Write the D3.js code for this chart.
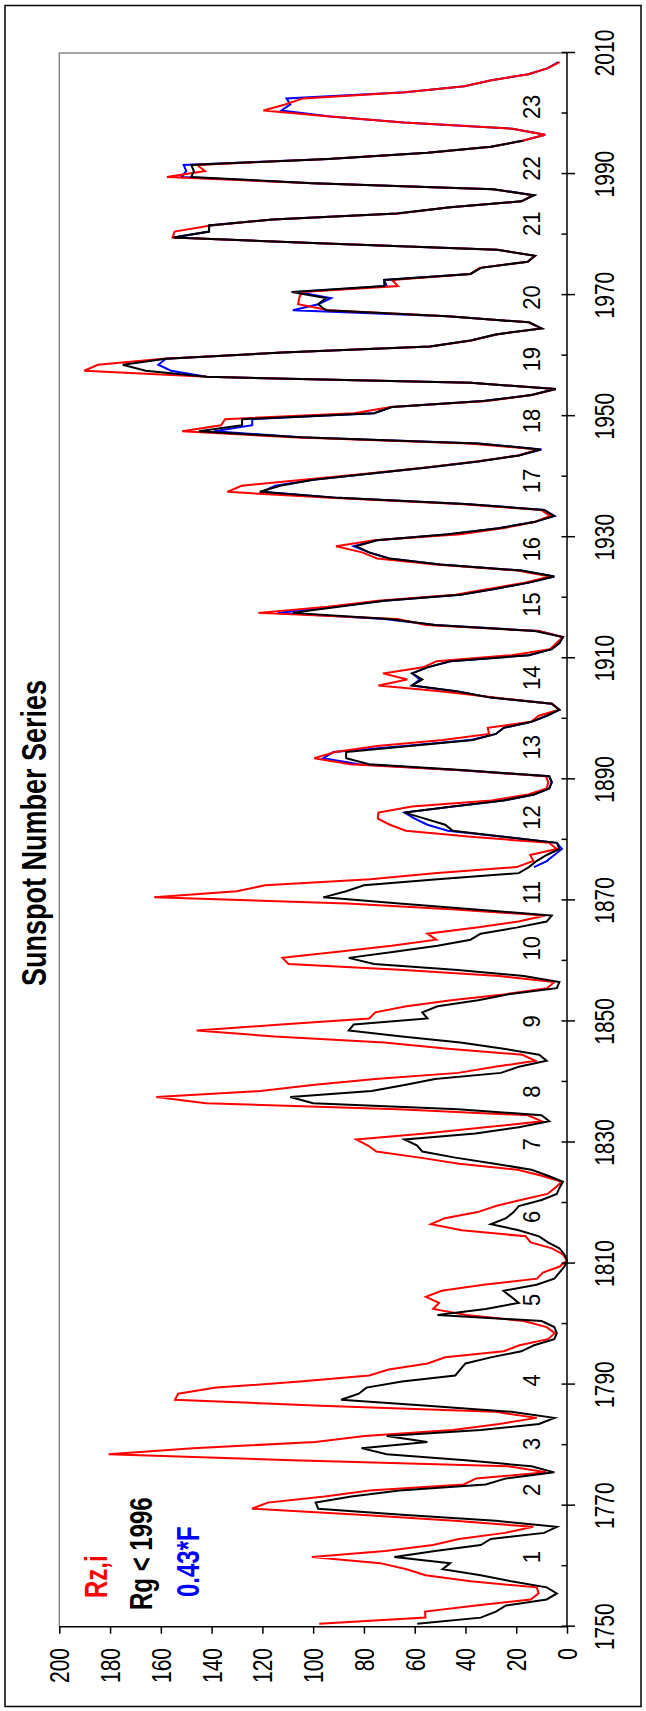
<!DOCTYPE html>
<html><head><meta charset="utf-8">
<script src="https://cdn.jsdelivr.net/npm/d3@7"></script>
<style>
html,body{margin:0;padding:0;background:#fff;}
svg{display:block;}
text{font-family:"Liberation Sans",Arial,Helvetica,sans-serif;}
</style></head>
<body>
<script>
// ---------------- data ----------------
const title = "Sunspot Number Series";
const rzStart = 1750;   // Rz,i yearly values 1750..2008
const rz = [97.6,55.8,55.9,35.9,14.3,11.2,11.9,37.9,55.7,63.2,
73.6,100.5,71.6,52.8,42.6,24.5,13.3,44.2,81.7,124.1,
117.9,95.5,77.8,40.7,35.8,8.2,23.2,108.2,180.6,147.3,
99.2,79.7,45.0,26.7,11.9,28.2,97.0,154.4,153.2,138.2,
105.2,77.9,70.2,54.9,48.0,24.9,18.7,7.5,4.8,8.0,
17.0,39.8,52.7,50.4,55.6,49.4,32.9,11.8,9.5,2.9,
0.0,1.6,5.9,14.3,16.3,41.4,53.6,48.1,35.2,28.0,
18.3,7.7,4.7,2.1,9.9,19.4,42.5,58.0,75.1,78.4,
83.0,55.9,32.2,9.9,15.4,66.6,142.2,161.8,120.7,100.3,
75.6,42.9,28.3,12.5,17.6,46.9,72.0,115.2,145.9,112.7,
77.9,75.5,63.3,45.6,24.1,7.8,5.0,26.6,64.1,109.7,
112.1,90.3,69.1,51.5,55.0,35.7,19.1,8.5,44.0,86.6,
162.6,130.1,118.9,77.5,52.3,19.9,13.2,14.5,4.0,7.0,
37.8,63.5,69.8,74.5,74.3,61.1,29.7,15.3,8.0,7.4,
8.3,41.7,85.4,99.6,91.3,74.9,48.9,30.7,31.2,14.2,
11.1,3.2,5.9,28.5,49.1,74.3,62.9,72.5,56.7,51.4,
21.8,6.7,4.2,1.6,11.2,55.5,66.8,121.6,94.3,74.4,
44.0,30.5,16.6,6.8,19.5,51.8,74.8,80.7,91.0,75.9,
41.8,24.8,13.0,6.7,10.2,42.2,93.2,133.8,128.2,103.9,
79.3,55.6,35.8,19.1,11.2,38.8,108.3,151.6,136.3,134.7,
83.9,69.4,31.5,13.9,4.4,38.0,141.7,190.2,184.8,159.0,
112.3,53.9,37.6,27.9,10.2,15.1,47.0,93.8,105.9,105.5,
104.5,66.6,68.9,38.0,34.5,15.5,12.6,27.5,92.5,155.4,
154.6,140.4,115.9,66.6,45.9,17.9,13.4,29.4,100.2,157.6,
142.6,145.7,94.3,54.6,29.9,17.5,8.6,21.5,64.3,93.3,
119.6,111.0,104.0,63.7,40.4,29.8,15.2,7.5,2.9];

const rgStart = 1750;   // Rg yearly values 1750..1995
const rg = [59,34,28,24,8,4,8,22,34,49,
46,68,52,34,30,9,4,28,65,98,
99,85,66,32,24,5,14,40,71,81,
55,71,34,11,5,22,55,89,82,79,
65,44,42,40,30,18,13,5,4,5,
10,51,32,19,22,25,12,5,3,1,
0,1,3,7.5,11,19,30,24,21,19,
10,4,3,1.6,7.5,14,28.5,44,57,59,
64,36,19,7,10,43,100,109,77,64,
52,26,19,8,11,25,42,65,86,84,
55,57,51,35,23,4,3,17,43,76,
86,68,51,38,34,20,8,6,36,66,
96,87,80,51,19,15,12,8,3,4,
25,45,48,56,64,45,25,13,7,6,
7,40,78,87,87,62,37,28,25,14,
8,3,6,30,43,61,57,61,55,46,
15,6,3,1.6,12.7,52,70,108,90,72,
42,28,15,5,18,50,70,78,83,75,
47,27,13,5,9,40,90,121,113,100,
78,55,35,19,10.5,35,105,145,128,128,
76,69,33,14,4.4,38,142,166,175,158,
112,54,38,28,10,15,47,95,98,95,
108.5,72,72,38,34,15.5,12.6,27.5,92.5,155,
141,141,116,67,46,18,13,29,100,148,
147,148,94,55,30,17.5];

const fStart = 1875;    // 0.43*F yearly values 1875..2008
const f43 = [13,8,5,2,4,
25,47,55,60,64,45,25,13,7,6,
7,42,82,96,92,64,38,28,25,14,
8,3,6,30,43,61,58,61,55,46,
15,6,3,1.6,11,52,72,114,92,72,
42,28,15,5,18,50,70,78,84,75,
46,27,13,5,9,40,90,120,115,100,
78,55,35,19,10,35,105,139,124,124,
76,69,33,14,4.4,38,142,156,161,158,
112,54,38,28,10,15,47,108,98,93,
106,71,72,38,34,15.5,12.6,27.5,92.5,155,
141,141,116,67,46,18,13,29,100,152,
150,151,94,55,30,17.5,8.6,21.5,64.3,93.3,
112.5,109,110.5,63.7,40.4,29.8,15.2,7.5,3.5];

const cycleNames = ["1","2","3","4","5","6","7","8","9","10","11","12","13","14","15","16","17","18","19","20","21","22","23"];
const cycleYears = [1761.5,1772.6,1780.2,1790.7,1804,1817.7,1829.7,1838.4,1850,1862.1,1871.3,1883.7,1895.3,1906.8,1918.9,1928,1939.3,1949.2,1959.4,1969.6,1981.8,1990.9,2001.1];

const yearTicks = [1750,1770,1790,1810,1830,1850,1870,1890,1910,1930,1950,1970,1990,2010];
const yearMinor = [1760,1780,1800,1820,1840,1860,1880,1900,1920,1940,1960,1980,2000];
const valueTicks = [0,20,40,60,80,100,120,140,160,180,200];

const legendItems = [
  {label:"Rz,i", color:"#ff0000"},
  {label:"Rg < 1996", color:"#000000"},
  {label:"0.43*F", color:"#0000ff"}
];

// ---------------- layout ----------------
const W = 646, H = 1711;
const svg = d3.select("body").append("svg").attr("width", W).attr("height", H);
svg.append("rect").attr("width", W).attr("height", H).attr("fill", "#fff");

// whole chart is drawn unrotated in a 1711 x 646 frame, then turned -90deg
const g = svg.append("g").attr("transform", `translate(0,${H}) rotate(-90)`);

const x = d3.scaleLinear().domain([1750, 2010]).range([84.3, 1658]);
const y = d3.scaleLinear().domain([0, 200]).range([567, 59.3]);

const STX = 1.0, STY = 1.32; // glyph stretch seen in the picture

// outer frame
g.append("rect").attr("x", 4.5).attr("y", 5).attr("width", 1701).attr("height", 636)
  .attr("fill", "none").attr("stroke", "#000").attr("stroke-width", 1.5);

// plot border (gray top/right)
g.append("path").attr("d", `M${x(1750)},${y(200)}H${x(2010)}V${y(0)}`)
  .attr("fill", "none").attr("stroke", "#888").attr("stroke-width", 1.5);

// series
function pts(arr, start){ return arr.map((v,i)=>[start + i + 0.5, v]); }
const line = d3.line().x(d=>x(d[0])).y(d=>y(d[1]));
const series = [
  {data: pts(f43, fStart), color:"#0000ff"},
  {data: pts(rz, rzStart), color:"#ff0000"},
  {data: pts(rg, rgStart), color:"#000000"}
];
g.selectAll("path.series").data(series).join("path").attr("class","series")
  .attr("d", d=>line(d.data)).attr("fill","none").attr("stroke", d=>d.color)
  .attr("stroke-width", 2).attr("stroke-linejoin","miter");

// year axis (bottom of frame = right side of picture)
const yearAxisMajor = d3.axisBottom(x).tickValues(yearTicks).tickSizeInner(8).tickSizeOuter(0).tickFormat("");
g.append("g").attr("transform", `translate(0,${y(0)})`).call(yearAxisMajor);
const yearAxisInner = d3.axisBottom(x).tickValues(yearTicks.concat(yearMinor)).tickSizeInner(-5.5).tickSizeOuter(0).tickFormat("");
g.append("g").attr("transform", `translate(0,${y(0)})`).call(yearAxisInner);
g.selectAll(".domain").remove();
g.selectAll(".tick line").attr("stroke","#000").attr("stroke-width",1.5);
g.append("line").attr("x1", x(1750)).attr("x2", x(2010)).attr("y1", y(0)).attr("y2", y(0))
  .attr("stroke","#000").attr("stroke-width",1.5);

// year labels
g.selectAll("text.yl").data(yearTicks).join("text").attr("class","yl")
  .attr("transform", d=>`translate(${x(d)},614) scale(${STX},${STY})`)
  .attr("text-anchor","middle").attr("font-size",21).attr("fill","#000").text(d=>d);

// value axis (left of frame = bottom of picture)
const yAxis = d3.axisLeft(y).tickValues(valueTicks).tickSizeInner(7).tickSizeOuter(0).tickFormat("");
g.append("g").attr("transform", `translate(${x(1750)},0)`).call(yAxis)
  .call(s=>s.select(".domain").remove())
  .call(s=>s.selectAll(".tick line").attr("stroke","#000").attr("stroke-width",1.5));
g.append("line").attr("x1", x(1750)).attr("x2", x(1750)).attr("y1", y(0)).attr("y2", y(200))
  .attr("stroke","#000").attr("stroke-width",1.5);
g.selectAll("text.vl").data(valueTicks).join("text").attr("class","vl")
  .attr("transform", d=>`translate(63,${y(d)+10}) scale(${STX},${STY})`)
  .attr("text-anchor","end").attr("font-size",21).attr("fill","#000").text(d=>d);

// cycle numbers
g.selectAll("text.cy").data(cycleNames).join("text").attr("class","cy")
  .attr("transform", (d,i)=>`translate(${x(cycleYears[i])},540) scale(1,1.05)`)
  .attr("text-anchor","middle").attr("font-size",22).attr("fill","#000").text(d=>d);

// title
g.append("text").attr("transform", `translate(878,46) scale(1,1.3)`)
  .attr("text-anchor","middle").attr("font-size",27).attr("font-weight","bold").attr("fill","#000").text(title);

// legend
const legendPos = [[113,107],[101,152],[114,199]];
g.selectAll("text.lg").data(legendItems).join("text").attr("class","lg")
  .attr("transform", (d,i)=>`translate(${legendPos[i][0]},${legendPos[i][1]}) scale(1,1.3)`)
  .attr("font-size",24).attr("font-weight","bold").attr("fill", d=>d.color).text(d=>d.label);
</script>
</body></html>
